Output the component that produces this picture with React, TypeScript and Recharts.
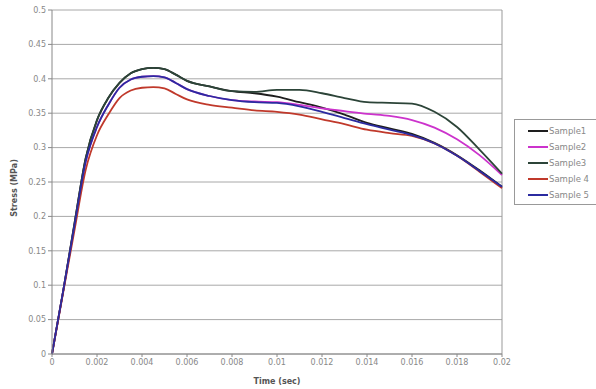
import React from 'react';
import { LineChart, Line, XAxis, YAxis, CartesianGrid, ReferenceLine } from 'recharts';

// time (sec)
const times = [0, 0.0005, 0.001, 0.0015, 0.002, 0.0025, 0.003, 0.0035, 0.004, 0.0045, 0.005, 0.0055, 0.006, 0.007, 0.008, 0.009, 0.01, 0.011, 0.012, 0.013, 0.014, 0.015, 0.016, 0.017, 0.018, 0.019, 0.02];

// stress (MPa)
const sample1 = [0, 0.092, 0.19, 0.285, 0.34, 0.372, 0.394, 0.408, 0.414, 0.416, 0.414, 0.406, 0.397, 0.389, 0.382, 0.379, 0.374, 0.366, 0.358, 0.348, 0.336, 0.328, 0.32, 0.307, 0.289, 0.267, 0.243];
const sample2 = [0, 0.092, 0.187, 0.28, 0.33, 0.362, 0.387, 0.399, 0.403, 0.404, 0.402, 0.394, 0.385, 0.375, 0.369, 0.367, 0.366, 0.362, 0.357, 0.353, 0.349, 0.346, 0.34, 0.329, 0.312, 0.289, 0.26];
const sample3 = [0, 0.092, 0.19, 0.285, 0.34, 0.372, 0.394, 0.408, 0.414, 0.416, 0.414, 0.406, 0.397, 0.389, 0.382, 0.381, 0.384, 0.384, 0.379, 0.372, 0.366, 0.365, 0.364, 0.352, 0.33, 0.297, 0.262];
const sample4 = [0, 0.09, 0.18, 0.268, 0.318, 0.348, 0.372, 0.383, 0.387, 0.388, 0.386, 0.378, 0.37, 0.362, 0.358, 0.354, 0.352, 0.348, 0.341, 0.334, 0.326, 0.321, 0.317, 0.306, 0.288, 0.265, 0.241];
const sample5 = [0, 0.092, 0.187, 0.28, 0.33, 0.362, 0.387, 0.399, 0.403, 0.404, 0.402, 0.394, 0.385, 0.375, 0.369, 0.366, 0.365, 0.36, 0.352, 0.343, 0.334, 0.326, 0.318, 0.306, 0.288, 0.266, 0.243];

const xTicks = [0, 0.002, 0.004, 0.006, 0.008, 0.01, 0.012, 0.014, 0.016, 0.018, 0.02];
const xTickLabels = ['0', '0.002', '0.004', '0.006', '0.008', '0.01', '0.012', '0.014', '0.016', '0.018', '0.02'];
const yTicks = [0, 0.05, 0.1, 0.15, 0.2, 0.25, 0.3, 0.35, 0.4, 0.45, 0.5];
const yTickLabels = ['0', '0.05', '0.1', '0.15', '0.2', '0.25', '0.3', '0.35', '0.4', '0.45', '0.5'];

const seriesNames = ['Sample1', 'Sample2', 'Sample3', 'Sample 4', 'Sample 5'];
const seriesColors = ['#1e1e1e', '#cc33cc', '#2c4438', '#c0392b', '#2b2ba0'];

const data = times.map((t, i) => ({
  t,
  s1: sample1[i],
  s2: sample2[i],
  s3: sample3[i],
  s4: sample4[i],
  s5: sample5[i],
}));
const keys = ['s1', 's2', 's3', 's4', 's5'];

const font = '"DejaVu Sans", sans-serif';

export default function App() {
  return (
    <div style={{ position: 'absolute', left: 0, top: 0, width: 596, height: 389, background: '#fff', fontFamily: font }}>
      <LineChart width={596} height={389} data={data} margin={{ top: 10, right: 94, bottom: 5, left: 0 }}>
        <CartesianGrid vertical={false} stroke="#a8a8a8" />
        <XAxis
          dataKey="t"
          type="number"
          domain={[0, 0.02]}
          ticks={xTicks}
          tickFormatter={(v, i) => xTickLabels[i]}
          height={30}
          tickSize={3}
          stroke="#888"
          tick={{ fontSize: 8, fill: '#888', fontFamily: font }}
          label={{ value: 'Time (sec)', position: 'insideBottom', offset: 0, style: { fontSize: 8, fontWeight: 'bold', fill: '#555', fontFamily: font } }}
        />
        <YAxis
          type="number"
          domain={[0, 0.5]}
          ticks={yTicks}
          tickFormatter={(v, i) => yTickLabels[i]}
          width={52}
          tickSize={4}
          stroke="#888"
          tick={{ fontSize: 8, fill: '#888', fontFamily: font }}
          label={{ value: 'Stress (MPa)', angle: -90, position: 'insideLeft', offset: 14, dy: 6, style: { textAnchor: 'middle', fontSize: 8, fontWeight: 'bold', fill: '#555', fontFamily: font } }}
        />
        <ReferenceLine x={0.02} stroke="#999" />
        {keys.map((k, i) => (
          <Line
            key={k}
            dataKey={k}
            name={seriesNames[i]}
            type="monotone"
            stroke={seriesColors[i]}
            strokeWidth={1.8}
            dot={false}
            isAnimationActive={false}
          />
        ))}
      </LineChart>
      <div
        style={{
          position: 'absolute',
          left: 514,
          top: 119,
          width: 90,
          height: 86,
          border: '1px solid #999',
          boxSizing: 'border-box',
          paddingTop: 3,
        }}
      >
        {seriesNames.map((n, i) => (
          <div key={n} style={{ display: 'flex', alignItems: 'center', height: 16, paddingLeft: 13 }}>
            <span style={{ display: 'inline-block', width: 20, height: 2, background: seriesColors[i] }} />
            <span style={{ fontSize: 8.5, color: '#888', marginLeft: 1 }}>{n}</span>
          </div>
        ))}
      </div>
    </div>
  );
}
